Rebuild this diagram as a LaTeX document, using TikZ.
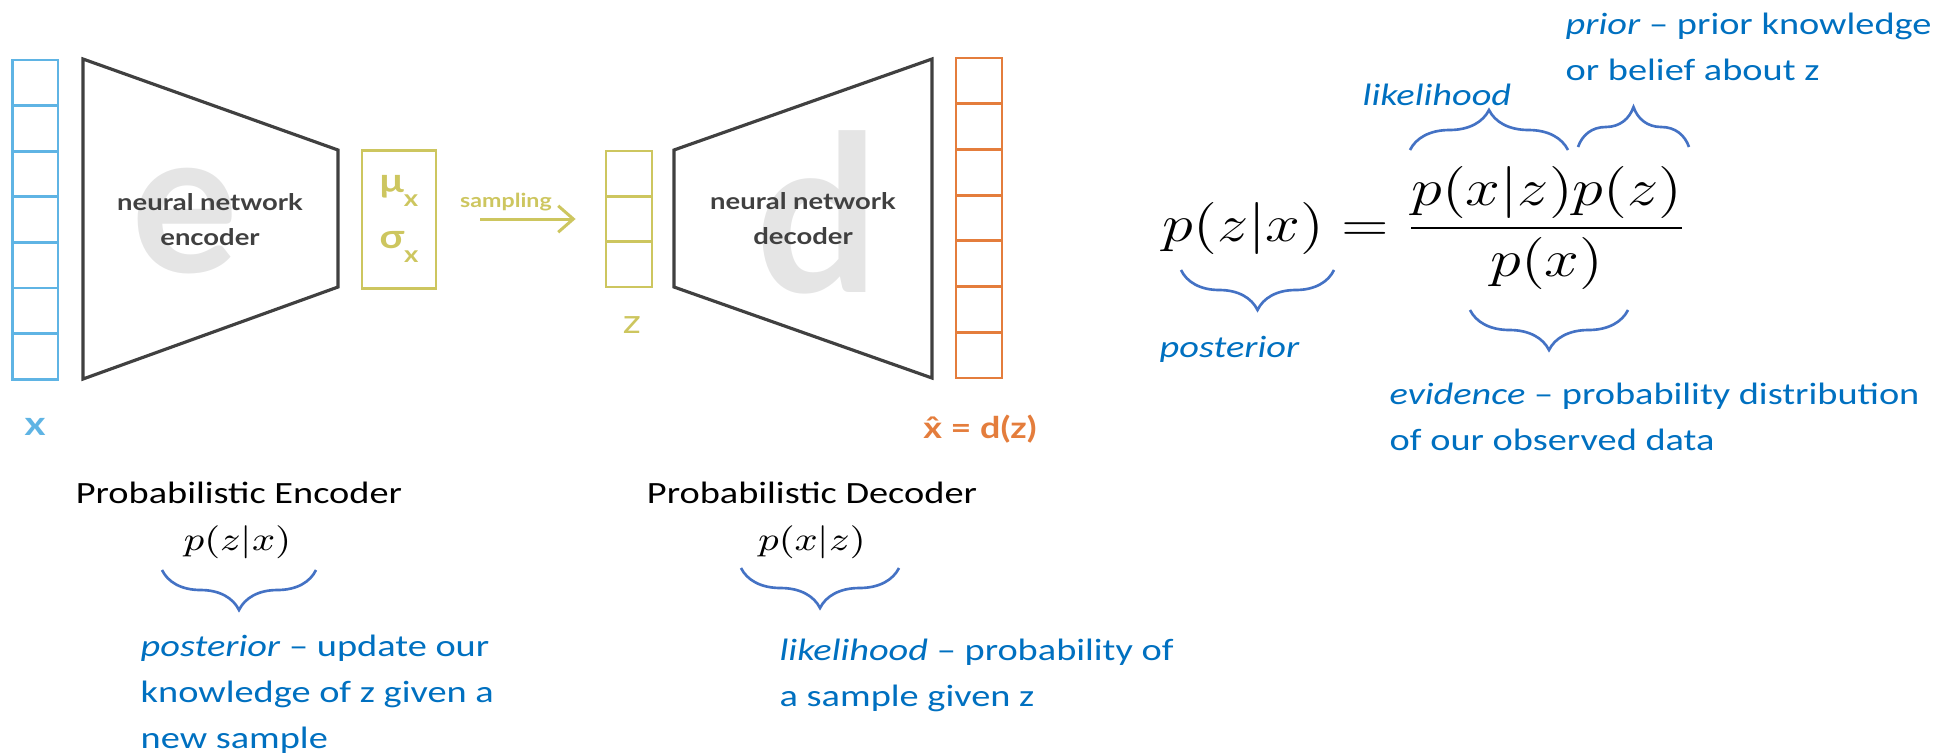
\RequirePackage{fix-cm}
\documentclass[tikz,border=0pt]{standalone}
\usepackage{amsmath}
\usepackage{fontspec}
\setmainfont{Carlito}[FakeStretch=1.24]
\newfontfamily\vaefont{Lato}[FakeStretch=1.2]
\newfontfamily\bigletter{Lato}
\usetikzlibrary{arrows.meta}
\usetikzlibrary{decorations.pathreplacing}
\usetikzlibrary{positioning}

\definecolor{vaeblue}{RGB}{95,180,228}
\definecolor{vaeolive}{RGB}{205,198,95}
\definecolor{vaeorange}{RGB}{228,125,60}
\definecolor{netgray}{RGB}{64,64,64}
\definecolor{lettergray}{RGB}{229,229,229}
\definecolor{txtblue}{RGB}{0,112,192}
\definecolor{brcblue}{RGB}{68,114,196}

\newcommand{\notefont}{\fontsize{8.8pt}{12.95pt}\selectfont}
\newcommand{\netfont}{\vaefont\fontsize{6.5pt}{9.96pt}\selectfont\bfseries}
\newcommand{\widemath}[1]{\scalebox{1.2}[1]{#1}}
\newcommand{\lowx}{\raisebox{-0.4em}{\fontsize{6.5pt}{7pt}\selectfont x}}

\begin{document}
\begin{tikzpicture}[
    cellx/.style={draw=vaeblue, line width=0.8pt, minimum width=0.455cm, minimum height=0.456cm, inner sep=0pt},
    cellz/.style={draw=vaeolive, line width=0.8pt, minimum width=0.46cm, minimum height=0.453cm, inner sep=0pt},
    cellout/.style={draw=vaeorange, line width=0.8pt, minimum width=0.46cm, minimum height=0.457cm, inner sep=0pt},
    net/.style={draw=netgray, line width=0.9pt, line join=miter},
    brc/.style={draw=brcblue, line width=0.75pt, decorate, decoration={brace,amplitude=0.4cm}},
    note/.style={text=txtblue, font=\notefont, align=left, anchor=base west, inner sep=0pt},
]
    \useasboundingbox (0,0) rectangle (19.48,7.55);

    % input, encoder
    \foreach \i in {0,...,6}
        \node[cellx] (x\i) at (0.353,6.722-0.456*\i) {};

    \node[text=lettergray, font=\bigletter\fontsize{57pt}{60pt}\selectfont\bfseries] (ebg) at (1.85,5.34) {e};

    \draw[net] (0.83,6.96) -- (3.38,6.05) -- (3.38,4.68) -- (0.83,3.76) -- cycle;

    \node[text=netgray, font=\netfont, align=center] (enc) at (2.10,5.355) {neural network\\encoder};

    \node[draw=vaeolive, line width=0.85pt, minimum width=0.74cm, minimum height=1.38cm, inner sep=0pt, align=center, text=vaeolive, font=\vaefont\fontsize{9.5pt}{15.9pt}\selectfont\bfseries] (musig) at (3.99,5.36) {μ\lowx\\σ\lowx};

    \node[text=vaeolive, font=\vaefont\fontsize{5.5pt}{7pt}\selectfont\bfseries] (samp) at (5.06,5.53) {sampling};

    % latent, decoder, output
    \foreach \i in {0,...,2}
        \node[cellz] (z\i) at (6.29,5.813-0.453*\i) {};

    \node[text=lettergray, font=\bigletter\fontsize{62pt}{66pt}\selectfont\bfseries] (dbg) at (8.17,5.43) {d};

    \draw[net] (6.74,6.05) -- (9.32,6.96) -- (9.32,3.77) -- (6.74,4.68) -- cycle;

    \node[text=netgray, font=\netfont, align=center] (dec) at (8.03,5.36) {neural network\\decoder};

    \foreach \i in {0,...,6}
        \node[cellout] (o\i) at (9.79,6.741-0.457*\i) {};

    \draw[vaeolive, line width=0.85pt, -{Straight Barb[length=4.3pt,width=7.5pt]}, shorten <=0.43cm, shorten >=0.29cm] (musig) -- (z1);

    \node[text=vaeblue, font=\vaefont\fontsize{9.5pt}{11pt}\selectfont\bfseries] (xlab) at (0.35,3.28) {x};
    \node[text=vaeolive, font=\vaefont\fontsize{9.5pt}{11pt}\selectfont] (zlab) at (6.32,4.30) {z};
    \node[text=vaeorange, font=\vaefont\fontsize{8.5pt}{10pt}\selectfont\bfseries, anchor=base] (xhat) at (9.80,3.17) {\^{x} = d(z)};

    % encoder / decoder notes
    \node[font=\notefont, anchor=base] (encname) at (2.39,2.52) {Probabilistic Encoder};
    \node[font=\fontsize{9.4pt}{11pt}\selectfont] (penc) at (2.375,2.13) {\widemath{$p(z|x)$}};
    \coordinate (be1) at (3.16,1.85);
    \coordinate (be2) at (1.62,1.85);
    \draw[brc] (be1) -- (be2);
    \node[note] (encnote) at (1.40,0.07) {\textit{posterior} -- update our\\knowledge of z given a\\new sample};

    \node[font=\notefont, anchor=base] (decname) at (8.12,2.52) {Probabilistic Decoder};
    \node[font=\fontsize{9.4pt}{11pt}\selectfont] (pdec) at (8.12,2.13) {\widemath{$p(x|z)$}};
    \coordinate (bd1) at (8.99,1.87);
    \coordinate (bd2) at (7.41,1.87);
    \draw[brc] (bd1) -- (bd2);
    \node[note] (decnote) at (7.79,0.485) {\textit{likelihood} -- probability of\\a sample given z};

    % Bayes
    \node[font=\fontsize{14.8pt}{18pt}\selectfont, anchor=base] (bayes) at (14.25,5.14) {\widemath{$p(z|x) = \dfrac{p(x|z)p(z)}{p(x)}$}};

    \coordinate (bl1) at (14.10,6.05);
    \coordinate (bl2) at (15.68,6.05);
    \draw[brc] (bl1) -- (bl2);
    \coordinate (bp1) at (15.78,6.08);
    \coordinate (bp2) at (16.89,6.08);
    \draw[brc] (bp1) -- (bp2);
    \coordinate (bq1) at (13.34,4.85);
    \coordinate (bq2) at (11.81,4.85);
    \draw[brc] (bq1) -- (bq2);
    \coordinate (bv1) at (16.28,4.45);
    \coordinate (bv2) at (14.70,4.45);
    \draw[brc] (bv1) -- (bv2);

    \node[note] (lik) at (13.62,6.50) {\textit{likelihood}};
    \node[note] (prior) at (15.65,6.75) {\textit{prior} -- prior knowledge\\or belief about z};
    \node[note] (post) at (11.59,3.98) {\textit{posterior}};
    \node[note] (evid) at (13.89,3.05) {\textit{evidence} -- probability distribution\\of our observed data};

  \end{tikzpicture}
\end{document}
